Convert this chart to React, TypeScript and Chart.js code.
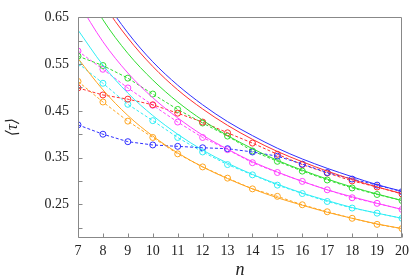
import React, { useEffect, useRef } from "react";
import { Chart, registerables } from "chart.js";

Chart.register(...registerables);

// n values
const N = [7, 8, 9, 10, 11, 12, 13, 14, 15, 16, 17, 18, 19, 20];

// measured points (dashed, circle markers)
const BLUE_PTS = [0.420, 0.400, 0.384, 0.377, 0.374, 0.371, 0.369, 0.362, 0.353, 0.336, 0.318, 0.304, 0.291, 0.277];
const RED_PTS = [0.499, 0.484, 0.475, 0.463, 0.445, 0.426, 0.403, 0.381, 0.357, 0.335, 0.317, 0.300, 0.287, 0.272];
const GREEN_PTS = [0.567, 0.547, 0.520, 0.486, 0.453, 0.424, 0.396, 0.364, 0.342, 0.321, 0.302, 0.285, 0.271, 0.258];
const MAGENTA_PTS = [0.578, 0.539, 0.499, 0.462, 0.426, 0.393, 0.367, 0.339, 0.318, 0.299, 0.281, 0.264, 0.252, 0.239];
const CYAN_PTS = [0.552, 0.509, 0.464, 0.429, 0.393, 0.362, 0.335, 0.313, 0.291, 0.273, 0.256, 0.242, 0.231, 0.220];
const ORANGE_PTS = [0.513, 0.469, 0.428, 0.393, 0.358, 0.330, 0.306, 0.283, 0.267, 0.249, 0.234, 0.220, 0.207, 0.198];

// solid curves
const BLUE_FIT = [0.793, 0.694, 0.617, 0.555, 0.505, 0.463, 0.427, 0.397, 0.370, 0.347, 0.327, 0.309, 0.292, 0.278];
const RED_FIT = [0.779, 0.681, 0.606, 0.545, 0.495, 0.454, 0.419, 0.389, 0.363, 0.341, 0.321, 0.303, 0.287, 0.273];
const GREEN_FIT = [0.737, 0.645, 0.573, 0.516, 0.469, 0.430, 0.397, 0.369, 0.344, 0.323, 0.304, 0.287, 0.272, 0.258];
const MAGENTA_FIT = [0.683, 0.598, 0.531, 0.478, 0.435, 0.398, 0.368, 0.341, 0.319, 0.299, 0.281, 0.266, 0.252, 0.239];
const CYAN_FIT = [0.623, 0.548, 0.488, 0.440, 0.400, 0.366, 0.338, 0.314, 0.293, 0.274, 0.258, 0.243, 0.231, 0.220];
const ORANGE_FIT = [0.562, 0.495, 0.440, 0.396, 0.360, 0.330, 0.305, 0.283, 0.264, 0.248, 0.233, 0.220, 0.208, 0.198];

const Y_TICKS = [0.25, 0.35, 0.45, 0.55, 0.65];
const Y_MINOR = [0.2, 0.3, 0.4, 0.5, 0.6];
const X_TICKS = N;

const SERIES = [
  { color: "#3030ff", pts: BLUE_PTS, fit: BLUE_FIT },
  { color: "#ff3030", pts: RED_PTS, fit: RED_FIT },
  { color: "#30dd30", pts: GREEN_PTS, fit: GREEN_FIT },
  { color: "#ff40ff", pts: MAGENTA_PTS, fit: MAGENTA_FIT },
  { color: "#30eef5", pts: CYAN_PTS, fit: CYAN_FIT },
  { color: "#ffa520", pts: ORANGE_PTS, fit: ORANGE_FIT },
];

const AXIS_COLOR = "#888888";
const TEXT_COLOR = "#222222";
const FONT_FAMILY = "'Liberation Serif', 'DejaVu Serif', serif";

const boxPlugin = {
  id: "boxTicks",
  afterDraw(chart: any) {
    const { ctx, chartArea: a, scales } = chart;
    const xs = scales.x;
    const ys = scales.y;
    ctx.save();
    ctx.strokeStyle = AXIS_COLOR;
    ctx.lineWidth = 1;
    const L = Math.round(a.left) + 0.5;
    const R = Math.round(a.right) - 0.5;
    const T = Math.round(a.top) + 0.5;
    const B = Math.round(a.bottom) + 0.5;
    ctx.beginPath();
    ctx.rect(L, T, R - L, B - T);
    ctx.stroke();
    ctx.beginPath();
    [...Y_TICKS, ...Y_MINOR].forEach((v) => {
      const py = Math.round(ys.getPixelForValue(v)) + 0.5;
      ctx.moveTo(L, py);
      ctx.lineTo(L + 4, py);
    });
    X_TICKS.forEach((v) => {
      const px = Math.round(xs.getPixelForValue(v)) + 0.5;
      ctx.moveTo(px, B);
      ctx.lineTo(px, B - 4);
    });
    ctx.stroke();
    ctx.restore();
  },
};

export default function App() {
  const ref = useRef<HTMLCanvasElement>(null);

  useEffect(() => {
    document.body.style.margin = "0";
    const datasets: any[] = [];
    SERIES.forEach((s) => {
      datasets.push({
        data: N.map((n, i) => ({ x: n, y: s.fit[i] })),
        borderColor: s.color,
        borderWidth: 1,
        pointRadius: 0,
        cubicInterpolationMode: "monotone",
        fill: false,
      });
    });
    SERIES.forEach((s) => {
      datasets.push({
        data: N.map((n, i) => ({ x: n, y: s.pts[i] })),
        borderColor: s.color,
        borderWidth: 1,
        borderDash: [3, 2],
        pointRadius: 3,
        pointBorderWidth: 1,
        pointBorderColor: s.color,
        pointBackgroundColor: "rgba(0,0,0,0)",
        pointStyle: "circle",
        tension: 0,
        fill: false,
      });
    });

    const chart = new Chart(ref.current!, {
      type: "line",
      data: { datasets },
      plugins: [boxPlugin],
      options: {
        responsive: false,
        animation: false,
        devicePixelRatio: 1,
        layout: { padding: { top: 6, right: 6, left: 0, bottom: 0 } },
        plugins: { legend: { display: false }, tooltip: { enabled: false } },
        scales: {
          x: {
            type: "linear",
            min: 7,
            max: 20,
            grid: { display: false, drawTicks: false },
            border: { display: false },
            afterBuildTicks: (scale: any) => {
              scale.ticks = X_TICKS.map((v) => ({ value: v }));
            },
            afterFit: (scale: any) => {
              scale.height = 42;
            },
            ticks: {
              color: TEXT_COLOR,
              padding: 6,
              maxRotation: 0,
              autoSkip: false,
              font: { family: FONT_FAMILY, size: 14 },
              callback: (v: any) => String(v),
            },
            title: {
              display: true,
              text: "n",
              color: TEXT_COLOR,
              padding: { top: 0, bottom: -2 },
              font: { family: FONT_FAMILY, size: 18, style: "italic" },
            },
          },
          y: {
            type: "linear",
            min: 0.18,
            max: 0.65,
            grid: { display: false, drawTicks: false },
            border: { display: false },
            afterBuildTicks: (scale: any) => {
              scale.ticks = Y_TICKS.map((v) => ({ value: v }));
            },
            afterFit: (scale: any) => {
              scale.width = 78;
            },
            ticks: {
              color: TEXT_COLOR,
              padding: 9,
              autoSkip: false,
              font: { family: FONT_FAMILY, size: 14 },
              callback: (v: any) => Number(v).toFixed(2),
            },
            title: {
              display: true,
              text: "⟨τ⟩",
              color: TEXT_COLOR,
              padding: { top: 3, bottom: 0 },
              font: { family: FONT_FAMILY, size: 16, style: "italic" },
            },
          },
        },
      },
    });
    return () => chart.destroy();
  }, []);

  return <canvas ref={ref} width={415} height={279} style={{ display: "block" }} />;
}
